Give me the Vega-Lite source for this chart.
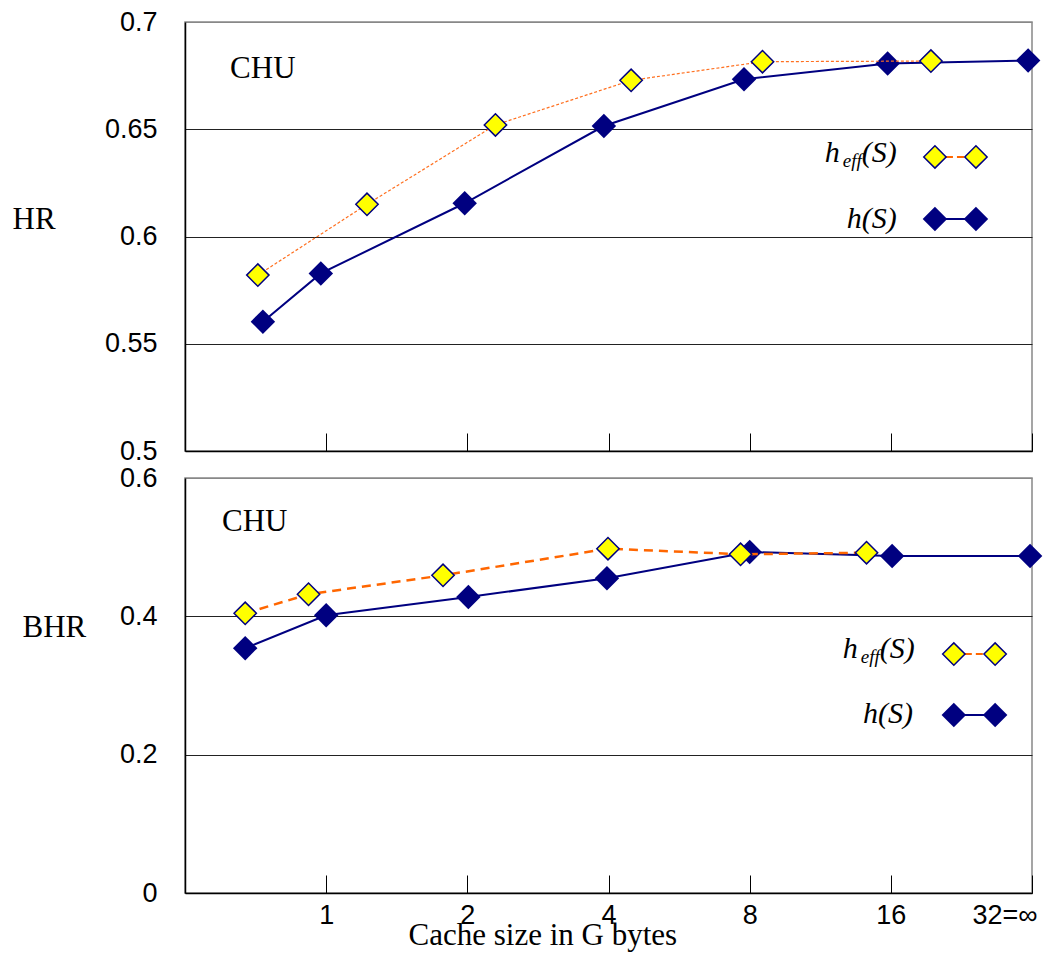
{
  "$schema": "https://vega.github.io/schema/vega-lite/v6.json",
  "background": "white",
  "padding": {"left": 11, "top": 7, "right": 5, "bottom": 5},
  "spacing": 27,
  "bounds": "flush",
  "datasets": {
    "hr": [
      {"series": "h", "S": 0.733, "v": 0.5603},
      {"series": "h", "S": 0.974, "v": 0.5828},
      {"series": "h", "S": 1.974, "v": 0.6155},
      {"series": "h", "S": 3.91, "v": 0.6515},
      {"series": "h", "S": 7.78, "v": 0.6733},
      {"series": "h", "S": 15.75, "v": 0.6806},
      {"series": "h", "S": 31.4, "v": 0.6821},
      {"series": "heff", "S": 0.715, "v": 0.582},
      {"series": "heff", "S": 1.222, "v": 0.615},
      {"series": "heff", "S": 2.296, "v": 0.652},
      {"series": "heff", "S": 4.47, "v": 0.6728},
      {"series": "heff", "S": 8.52, "v": 0.6815},
      {"series": "heff", "S": 19.48, "v": 0.6818}
    ],
    "bhr": [
      {"series": "h", "S": 0.672, "v": 0.354},
      {"series": "h", "S": 1.0, "v": 0.4015},
      {"series": "h", "S": 2.01, "v": 0.428},
      {"series": "h", "S": 3.97, "v": 0.455},
      {"series": "h", "S": 8.0, "v": 0.493},
      {"series": "h", "S": 16.1, "v": 0.4872},
      {"series": "h", "S": 31.7, "v": 0.4872},
      {"series": "heff", "S": 0.672, "v": 0.4044},
      {"series": "heff", "S": 0.917, "v": 0.4319},
      {"series": "heff", "S": 1.775, "v": 0.4593},
      {"series": "heff", "S": 3.99, "v": 0.4978},
      {"series": "heff", "S": 7.65, "v": 0.4897},
      {"series": "heff", "S": 14.2, "v": 0.492}
    ],
    "one": [{"k": 1}]
  },
  "vconcat": [
    {
      "width": 847,
      "height": 429,
      "layer": [
        {"data": {"name": "hr"}, "transform": [{"filter": "datum.series == 'h'"}], "mark": {"type": "line", "color": "#000080", "strokeWidth": 2},
         "encoding": {
           "x": {"field": "S", "type": "quantitative",
             "scale": {"type": "log", "base": 2, "domain": [0.5, 32], "nice": false},
             "axis": {"values": [1, 2, 4, 8, 16, 32], "labels": false, "title": null, "grid": false, "ticks": true, "tickSize": -18, "tickColor": "#000", "tickWidth": 1}},
           "y": {"field": "v", "type": "quantitative",
             "scale": {"domain": [0.5, 0.7], "nice": false, "zero": false},
             "axis": {
               "values": [0.5, 0.55, 0.6, 0.65, 0.7], "format": "~g", "grid": true, "ticks": false,
               "gridColor": {"condition": {"test": "datum.value > 0.69", "value": "#888"}, "value": "#222"},
               "labelPadding": 28, "title": "HR", "titleAngle": 0, "titleAlign": "left", "titleBaseline": "middle",
               "titleX": -173, "titleY": 197}}
         }},
        {"data": {"name": "hr"}, "transform": [{"filter": "datum.series == 'h'"}], "mark": {"type": "point", "shape": "diamond", "filled": true, "color": "#000080", "opacity": 1, "size": 600},
         "encoding": {"x": {"field": "S", "type": "quantitative"}, "y": {"field": "v", "type": "quantitative"}}},
        {"data": {"name": "hr"}, "transform": [{"filter": "datum.series == 'heff'"}], "mark": {"type": "line", "color": "#FF7020", "strokeWidth": 1.2, "strokeDash": [3, 2]},
         "encoding": {"x": {"field": "S", "type": "quantitative"}, "y": {"field": "v", "type": "quantitative"}}},
        {"data": {"name": "hr"}, "transform": [{"filter": "datum.series == 'heff'"}], "mark": {"type": "point", "shape": "diamond", "filled": true, "fill": "#FFFF00", "stroke": "#000080", "strokeWidth": 1.5, "opacity": 1, "size": 500},
         "encoding": {"x": {"field": "S", "type": "quantitative"}, "y": {"field": "v", "type": "quantitative"}}},
        {"data": {"name": "one"}, "mark": {"type": "text", "text": "CHU", "font": "Liberation Serif", "fontSize": 31, "align": "left", "baseline": "middle"},
         "encoding": {"x": {"datum": 0.624, "type": "quantitative"}, "y": {"datum": 0.6781, "type": "quantitative"}}},
        {"data": {"name": "one"}, "mark": {"type": "text", "text": "(S)", "font": "Liberation Serif", "fontStyle": "italic", "fontSize": 30, "align": "right", "baseline": "alphabetic"},
         "encoding": {"x": {"datum": 16.48, "type": "quantitative"}, "y": {"datum": 0.6347, "type": "quantitative"}}},
        {"data": {"name": "one"}, "mark": {"type": "text", "text": "eff", "font": "Liberation Serif", "fontStyle": "italic", "fontSize": 19, "align": "right", "baseline": "alphabetic", "dx": -35, "dy": 5},
         "encoding": {"x": {"datum": 16.48, "type": "quantitative"}, "y": {"datum": 0.6347, "type": "quantitative"}}},
        {"data": {"name": "one"}, "mark": {"type": "text", "text": "h", "font": "Liberation Serif", "fontStyle": "italic", "fontSize": 30, "align": "right", "baseline": "alphabetic", "dx": -57},
         "encoding": {"x": {"datum": 16.48, "type": "quantitative"}, "y": {"datum": 0.6347, "type": "quantitative"}}},
        {"data": {"name": "one"}, "mark": {"type": "text", "text": "h(S)", "font": "Liberation Serif", "fontStyle": "italic", "fontSize": 30, "align": "right", "baseline": "alphabetic"},
         "encoding": {"x": {"datum": 16.48, "type": "quantitative"}, "y": {"datum": 0.604, "type": "quantitative"}}},
        {"data": {"name": "one"}, "mark": {"type": "rule", "color": "#FF6600", "strokeWidth": 2, "strokeDash": [7, 4]},
         "encoding": {"x": {"datum": 19.87, "type": "quantitative"}, "x2": {"datum": 24.3}, "y": {"datum": 0.6371, "type": "quantitative"}}},
        {"data": {"name": "one"}, "mark": {"type": "point", "shape": "diamond", "filled": true, "fill": "#FFFF00", "stroke": "#000080", "strokeWidth": 1.5, "opacity": 1, "size": 500},
         "encoding": {"x": {"datum": 19.87, "type": "quantitative"}, "y": {"datum": 0.6371, "type": "quantitative"}}},
        {"data": {"name": "one"}, "mark": {"type": "point", "shape": "diamond", "filled": true, "fill": "#FFFF00", "stroke": "#000080", "strokeWidth": 1.5, "opacity": 1, "size": 500},
         "encoding": {"x": {"datum": 24.3, "type": "quantitative"}, "y": {"datum": 0.6371, "type": "quantitative"}}},
        {"data": {"name": "one"}, "mark": {"type": "rule", "color": "#000080", "strokeWidth": 2},
         "encoding": {"x": {"datum": 19.87, "type": "quantitative"}, "x2": {"datum": 24.3}, "y": {"datum": 0.6082, "type": "quantitative"}}},
        {"data": {"name": "one"}, "mark": {"type": "point", "shape": "diamond", "filled": true, "color": "#000080", "opacity": 1, "size": 600},
         "encoding": {"x": {"datum": 19.87, "type": "quantitative"}, "y": {"datum": 0.6082, "type": "quantitative"}}},
        {"data": {"name": "one"}, "mark": {"type": "point", "shape": "diamond", "filled": true, "color": "#000080", "opacity": 1, "size": 600},
         "encoding": {"x": {"datum": 24.3, "type": "quantitative"}, "y": {"datum": 0.6082, "type": "quantitative"}}}
      ]
    },
    {
      "width": 847,
      "height": 415,
      "layer": [
        {"data": {"name": "bhr"}, "transform": [{"filter": "datum.series == 'h'"}], "mark": {"type": "line", "color": "#000080", "strokeWidth": 2},
         "encoding": {
           "x": {"field": "S", "type": "quantitative",
             "scale": {"type": "log", "base": 2, "domain": [0.5, 32], "nice": false},
             "axis": {
               "values": [1, 2, 4, 8, 16, 32], "grid": false, "ticks": true, "tickSize": -18, "tickColor": "#000", "tickWidth": 1,
               "labelPadding": 27, "labelBaseline": "top", "labelFlush": true, "labelFlushOffset": 5,
               "labelExpr": "datum.value >= 32 ? '32=∞' : format(datum.value, 'd')",
               "title": "Cache size in G bytes", "titleFontSize": 31, "titleX": 223, "titleY": 51, "titleAlign": "left", "titleAnchor": "start", "titleBaseline": "alphabetic"}},
           "y": {"field": "v", "type": "quantitative",
             "scale": {"domain": [0, 0.6], "nice": false, "zero": false},
             "axis": {
               "values": [0, 0.2, 0.4, 0.6], "format": "~g", "grid": true, "ticks": false,
               "gridColor": {"condition": {"test": "datum.value > 0.59", "value": "#888"}, "value": "#222"},
               "labelPadding": 28, "title": "BHR", "titleAngle": 0, "titleAlign": "left", "titleBaseline": "middle",
               "titleX": -163, "titleY": 149}}
         }},
        {"data": {"name": "bhr"}, "transform": [{"filter": "datum.series == 'h'"}], "mark": {"type": "point", "shape": "diamond", "filled": true, "color": "#000080", "opacity": 1, "size": 600},
         "encoding": {"x": {"field": "S", "type": "quantitative"}, "y": {"field": "v", "type": "quantitative"}}},
        {"data": {"name": "bhr"}, "transform": [{"filter": "datum.series == 'heff'"}], "mark": {"type": "line", "color": "#FF6600", "strokeWidth": 2.5, "strokeDash": [9, 6]},
         "encoding": {"x": {"field": "S", "type": "quantitative"}, "y": {"field": "v", "type": "quantitative"}}},
        {"data": {"name": "bhr"}, "transform": [{"filter": "datum.series == 'heff'"}], "mark": {"type": "point", "shape": "diamond", "filled": true, "fill": "#FFFF00", "stroke": "#000080", "strokeWidth": 1.5, "opacity": 1, "size": 500},
         "encoding": {"x": {"field": "S", "type": "quantitative"}, "y": {"field": "v", "type": "quantitative"}}},
        {"data": {"name": "one"}, "mark": {"type": "text", "text": "CHU", "font": "Liberation Serif", "fontSize": 31, "align": "left", "baseline": "middle"},
         "encoding": {"x": {"datum": 0.5997, "type": "quantitative"}, "y": {"datum": 0.5357, "type": "quantitative"}}},
        {"data": {"name": "one"}, "mark": {"type": "text", "text": "(S)", "font": "Liberation Serif", "fontStyle": "italic", "fontSize": 30, "align": "right", "baseline": "alphabetic"},
         "encoding": {"x": {"datum": 18.0, "type": "quantitative"}, "y": {"datum": 0.3398, "type": "quantitative"}}},
        {"data": {"name": "one"}, "mark": {"type": "text", "text": "eff", "font": "Liberation Serif", "fontStyle": "italic", "fontSize": 19, "align": "right", "baseline": "alphabetic", "dx": -35, "dy": 5},
         "encoding": {"x": {"datum": 18.0, "type": "quantitative"}, "y": {"datum": 0.3398, "type": "quantitative"}}},
        {"data": {"name": "one"}, "mark": {"type": "text", "text": "h", "font": "Liberation Serif", "fontStyle": "italic", "fontSize": 30, "align": "right", "baseline": "alphabetic", "dx": -57},
         "encoding": {"x": {"datum": 18.0, "type": "quantitative"}, "y": {"datum": 0.3398, "type": "quantitative"}}},
        {"data": {"name": "one"}, "mark": {"type": "text", "text": "h(S)", "font": "Liberation Serif", "fontStyle": "italic", "fontSize": 30, "align": "right", "baseline": "alphabetic"},
         "encoding": {"x": {"datum": 17.83, "type": "quantitative"}, "y": {"datum": 0.2458, "type": "quantitative"}}},
        {"data": {"name": "one"}, "mark": {"type": "rule", "color": "#FF6600", "strokeWidth": 2, "strokeDash": [7, 4]},
         "encoding": {"x": {"datum": 21.8, "type": "quantitative"}, "x2": {"datum": 26.7}, "y": {"datum": 0.3455, "type": "quantitative"}}},
        {"data": {"name": "one"}, "mark": {"type": "point", "shape": "diamond", "filled": true, "fill": "#FFFF00", "stroke": "#000080", "strokeWidth": 1.5, "opacity": 1, "size": 500},
         "encoding": {"x": {"datum": 21.8, "type": "quantitative"}, "y": {"datum": 0.3455, "type": "quantitative"}}},
        {"data": {"name": "one"}, "mark": {"type": "point", "shape": "diamond", "filled": true, "fill": "#FFFF00", "stroke": "#000080", "strokeWidth": 1.5, "opacity": 1, "size": 500},
         "encoding": {"x": {"datum": 26.7, "type": "quantitative"}, "y": {"datum": 0.3455, "type": "quantitative"}}},
        {"data": {"name": "one"}, "mark": {"type": "rule", "color": "#000080", "strokeWidth": 2},
         "encoding": {"x": {"datum": 21.8, "type": "quantitative"}, "x2": {"datum": 26.7}, "y": {"datum": 0.2574, "type": "quantitative"}}},
        {"data": {"name": "one"}, "mark": {"type": "point", "shape": "diamond", "filled": true, "color": "#000080", "opacity": 1, "size": 600},
         "encoding": {"x": {"datum": 21.8, "type": "quantitative"}, "y": {"datum": 0.2574, "type": "quantitative"}}},
        {"data": {"name": "one"}, "mark": {"type": "point", "shape": "diamond", "filled": true, "color": "#000080", "opacity": 1, "size": 600},
         "encoding": {"x": {"datum": 26.7, "type": "quantitative"}, "y": {"datum": 0.2574, "type": "quantitative"}}}
      ]
    }
  ],
  "config": {
    "view": {"stroke": "#888", "strokeWidth": 1.5},
    "axis": {
      "domainColor": "#000", "domainWidth": 1.5, "gridColor": "#222", "gridWidth": 1,
      "labelColor": "#000", "titleColor": "#000",
      "labelFont": "Liberation Sans", "labelFontSize": 27,
      "titleFont": "Liberation Serif", "titleFontWeight": "normal", "titleFontSize": 31
    },
    "text": {"font": "Liberation Serif", "color": "#000"}
  }
}
